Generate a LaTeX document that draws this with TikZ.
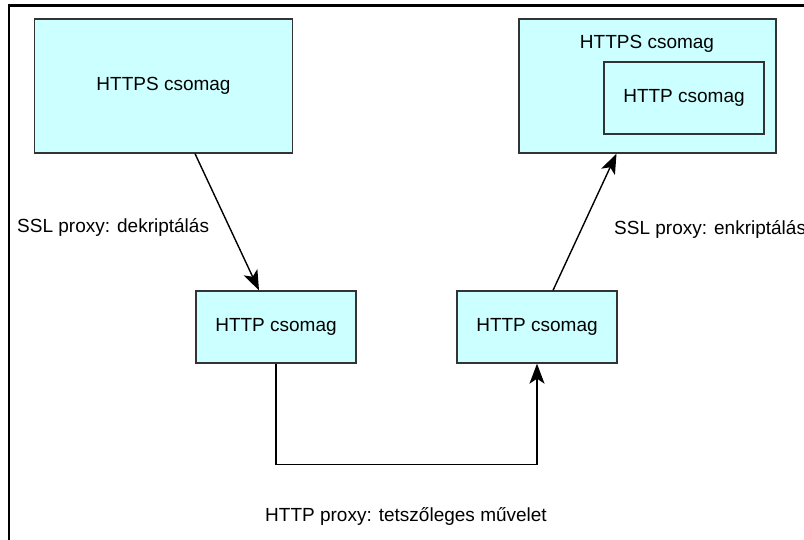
\documentclass[tikz,border=0pt]{standalone}
\usepackage{fontspec}
\setmainfont{Liberation Sans}
\usetikzlibrary{arrows.meta}
\definecolor{packetfill}{HTML}{CCFFFF}
\definecolor{packetline}{HTML}{333333}
\begin{document}
\begin{tikzpicture}[x=1pt,y=-1pt,
  packet/.style={draw=packetline, line width=1.3pt, fill=packetfill,
    inner sep=0pt, font=\fontsize{19}{23}\selectfont},
  httpbox/.style={packet, minimum width=160pt, minimum height=72pt},
  note/.style={inner sep=0pt, font=\fontsize{19}{23}\selectfont},
  flow/.style={line width=1.4pt, -{Stealth[length=20pt,width=15pt,inset=5pt]}}]
\useasboundingbox (0,0) rectangle (804,539);
\clip (0,0) rectangle (804,539);

% outer frame (only top and left edges fall inside the page)
\draw[line width=2.4pt] (9,620) -- (9,5.5) -- (900,5.5);

% packets before and after the proxy
\node[packet, minimum width=258pt, minimum height=134pt] (inA) at (163.5,86) {HTTPS csomag};
\node[packet, minimum width=257pt, minimum height=134pt] (outA) at (647.5,86) {};
\node[note, anchor=base] (outAtxt) at (647,48) {HTTPS csomag};
\node[httpbox] (outB) at (684,98) {HTTP csomag};

\node[httpbox] (inB) at (276,327) {HTTP csomag};
\node[httpbox] (outC) at (537,327) {HTTP csomag};

% processing steps
\draw[flow] ([xshift=31.5pt]inA.south) -- ([xshift=-17pt]inB.north);
\draw[flow] ([xshift=16pt]outC.north) -- ([xshift=-31pt]outA.south);
\draw[flow] (inB.south) -- ++(0,101) -| (outC.south);

% step labels
\node[note, anchor=base west] (dec) at (17,232) {SSL proxy: dekriptálás};
\node[note, anchor=base west] (enc) at (614,234) {SSL proxy: enkriptálás};
\node[note, anchor=base] (http) at (406,521) {HTTP proxy: tetszőleges művelet};
\end{tikzpicture}
\end{document}
